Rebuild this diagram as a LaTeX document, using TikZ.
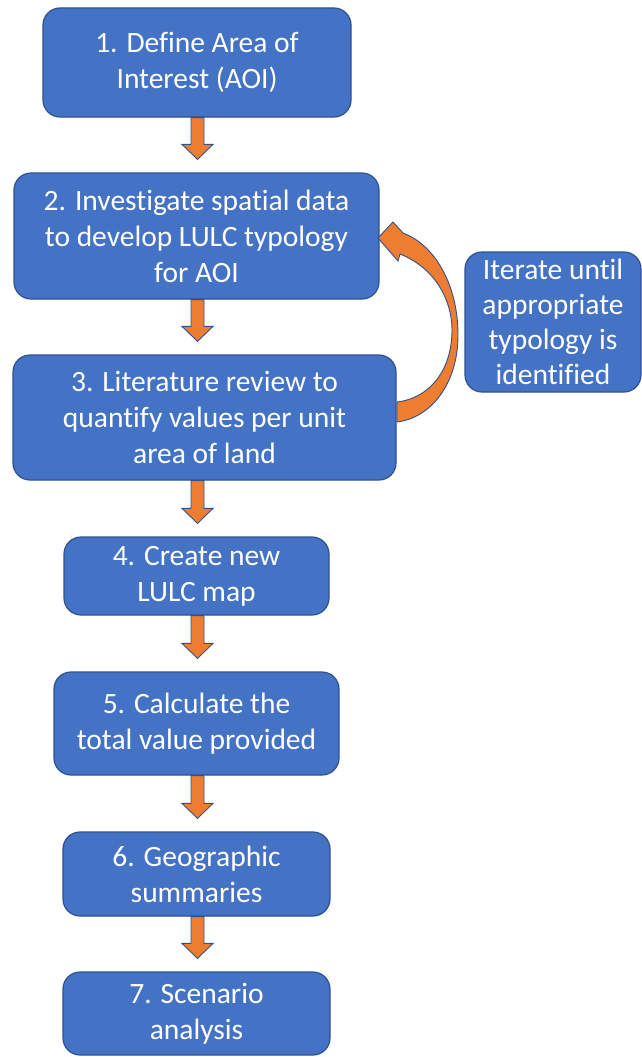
\documentclass[tikz,border=0pt]{standalone}
\usepackage{fontspec}
\setmainfont{Carlito}[Ligatures=NoCommon]
\usepackage{xcolor}
\usetikzlibrary{calc}

\definecolor{boxblue}{HTML}{4472C4}
\definecolor{boxline}{HTML}{2F528F}
\definecolor{arroworange}{HTML}{ED7D31}

% block arrow straight down from one box to the next
\newcommand{\flowarrow}[2]{%
  \filldraw[flowarrow] let \p0=(axis), \p1=(#1.south), \p2=(#2.north) in
    (\x0-6.5pt,\y1) -- (\x0-6.5pt,\y2+28pt) -- (\x0-15.5pt,\y2+28pt) -- (\x0,\y2+13pt)
    -- (\x0+15.5pt,\y2+28pt) -- (\x0+6.5pt,\y2+28pt) -- (\x0+6.5pt,\y1) -- cycle;}

\begin{document}
\begin{tikzpicture}[x=1pt,y=-1pt,
  stepbox/.style={draw=boxline, line width=1.2pt, fill=boxblue, rounded corners=17pt,
    text=white, align=center, inner sep=0pt,
    font=\fontsize{29.5}{36}\selectfont},
  notebox/.style={stepbox, font=\fontsize{29.5}{35}\selectfont},
  flowarrow/.style={fill=arroworange, draw=boxline, line width=0.9pt, line join=miter}]
\useasboundingbox (0,0) rectangle (642,1057);
\coordinate (axis) at (197.5,0);

\node[stepbox, minimum width=308pt, minimum height=109pt] (aoi) at (197,62.5)
  {1. Define Area of\\Interest (AOI)};
\node[stepbox, minimum width=365pt, minimum height=126pt] (typology) at (196.5,236)
  {2. Investigate spatial data\\to develop LULC typology\\for AOI};
\node[stepbox, minimum width=383pt, minimum height=125pt] (review) at (204.5,417.5)
  {3. Literature review to\\quantify values per unit\\area of land};
\node[stepbox, minimum width=265pt, minimum height=78pt] (newmap) at (196.5,576)
  {4. Create new\\LULC map};
\node[stepbox, minimum width=285pt, minimum height=103pt] (total) at (196.5,723.5)
  {5. Calculate the\\total value provided};
\node[stepbox, minimum width=267pt, minimum height=84pt] (summary) at (196.5,874)
  {6. Geographic\\summaries};
\node[stepbox, minimum width=267pt, minimum height=83pt] (scenario) at (196.5,1013.5)
  {7. Scenario\\analysis};

\node[notebox, minimum width=176pt, minimum height=140pt] (iterate) at (553,322)
  {Iterate until\\appropriate\\typology is\\identified};

\flowarrow{aoi}{typology}
\flowarrow{typology}{review}
\flowarrow{review}{newmap}
\flowarrow{newmap}{total}
\flowarrow{total}{summary}
\flowarrow{summary}{scenario}

% loop back from step 3 to step 2
\filldraw[flowarrow]
  (397,422) .. controls (430,418) and (458,385) .. (458,335)
  .. controls (458,285) and (435,245) .. (403,233)
  -- (393,222) -- (378,238) -- (398,261) -- (400,254)
  .. controls (435,268) and (452,300) .. (452,330)
  .. controls (452,370) and (430,398) .. (397,402) -- cycle;
\end{tikzpicture}
\end{document}
